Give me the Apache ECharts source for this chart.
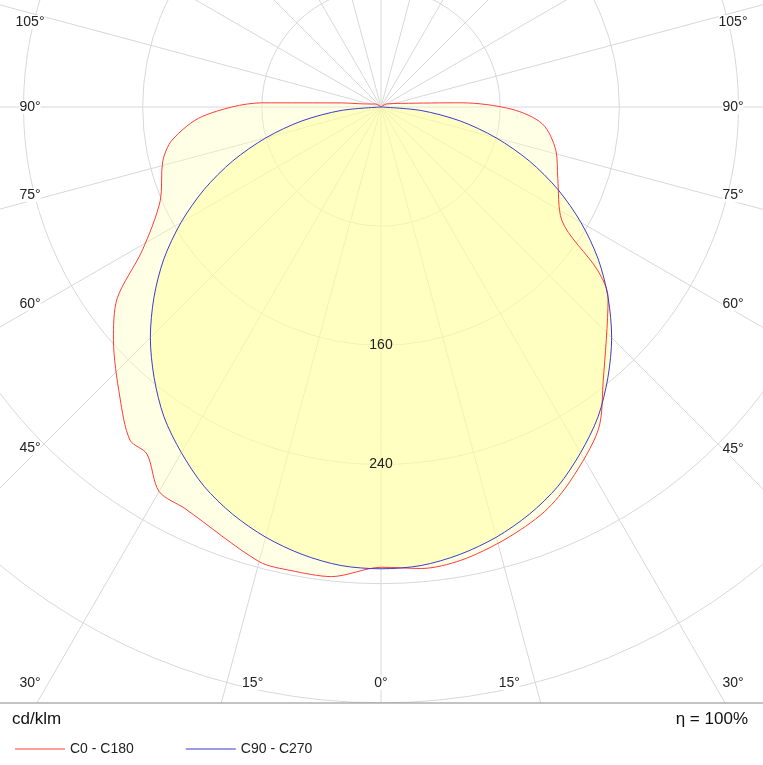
<!DOCTYPE html>
<html><head><meta charset="utf-8">
<script src="https://cdn.jsdelivr.net/npm/echarts@6/dist/echarts.min.js"></script>
<style>html,body{margin:0;padding:0;background:#fff}#c{width:763px;height:765px}</style>
</head><body><div id="c"></div>
<script>
// C0 side (right, positive angles) and C180 side (left)
const c0Angles = [0,6,11,15,26,30,34,37,42,49,54,59,67,76,81,87,92,96,100,120,180];
const c0Values = [309,317,317,316,300,298,281,280,262,238,219,187,161,151,142,120,80,26,12,4,0];
const c180Angles = [0,5,10,16,22,27,34,39,50,53,58,68,76,84,89,93,100,120,180];
const c180Values = [309,311,309,302,293,281,261,237,199,182,143,128,121,109,88,54,14,4,0];
// C90 - C270 (symmetric)
const c90Angles = [0,5,10,15,20,25,30,35,40,45,50,55,60,65,70,75,80,85,90];
const c90Values = [310,309,305,299,291,281,268,254,237,219,199,178,155,131,106,80,54,27,0];
const angleTicks = [0,15,30,45,60,75,90,105];
const radiusTickLabels = [160,240];

const CX=381, CY=107, R=715, RMAX=480;
function side(angles, values, sign){return angles.map((a,i)=>[values[i], sign*a]);}
const red = side(c180Angles,c180Values,-1).reverse().concat(side(c0Angles,c0Values,1).slice(1));
const blue = side(c90Angles,c90Values,-1).reverse().concat(side(c90Angles,c90Values,1).slice(1));

const font='"Liberation Sans", Arial, sans-serif';
const graphics=[
 {type:'rect',shape:{x:0,y:703,width:763,height:62},style:{fill:'#fff'},z:10},
 {type:'line',shape:{x1:0,y1:703,x2:763,y2:703},style:{stroke:'#888',lineWidth:1},z:11},
 {type:'text',left:12,top:711,style:{text:'cd/klm',font:'17px '+font,fill:'#111'},z:12},
 {type:'text',right:15,top:711,style:{text:'η = 100%',font:'17px '+font,fill:'#111'},z:12}
];
angleTicks.forEach(a=>{
  [1,-1].forEach(s=>{
    if(a===0 && s<0) return;
    const rad=a*Math.PI/180, dx=Math.sin(rad)*s, dy=Math.cos(rad);
    let x,y;
    if(a<30){ y=683; x=CX+dx*(683-CY)/dy; if(a>0) x-=s*26; }
    else { x = s>0?733:30; y=CY+dy*Math.abs((x-CX)/dx); }
    y=Math.max(22,Math.min(683,y));
    if(a===45) y-=10;
    if(a===60||a===75) y-=6;
    graphics.push({type:'text',x:x,y:y,style:{text:a+'°',font:'14px '+font,fill:'#222',align:'center',verticalAlign:'middle',backgroundColor:'#fff'},z:5});
  });
});
radiusTickLabels.forEach(v=>{
  graphics.push({type:'text',x:CX,y:CY+v/RMAX*R,style:{text:String(v),font:'14px '+font,fill:'#222',align:'center',verticalAlign:'middle'},z:5});
});

const chart=echarts.init(document.getElementById('c'));
chart.setOption({
  animation:false,
  polar:{center:[CX,CY],radius:R},
  angleAxis:{type:'value',min:-180,max:180,interval:15,startAngle:90,clockwise:true,
    axisLine:{show:false},axisTick:{show:false},axisLabel:{show:false},
    splitLine:{show:true,lineStyle:{color:'#d8d8d8',width:1}}},
  radiusAxis:{type:'value',min:0,max:RMAX,interval:80,
    axisLine:{show:false},axisTick:{show:false},axisLabel:{show:false},
    splitLine:{show:true,lineStyle:{color:'#d8d8d8',width:1}}},
  legend:{left:10,top:737,z:20,icon:'rect',itemWidth:50,itemHeight:1,itemGap:52,
    textStyle:{fontFamily:font,fontSize:14,color:'#222'},
    data:['C0 - C180','C90 - C270']},
  graphic:graphics,
  series:[
    {name:'C0 - C180',type:'line',coordinateSystem:'polar',data:red,showSymbol:false,smooth:0.3,
      lineStyle:{color:'#ff3b3b',width:1},itemStyle:{color:'#ff3b3b'},areaStyle:{color:'rgba(255,255,190,0.55)'}},
    {name:'C90 - C270',type:'line',coordinateSystem:'polar',data:blue,showSymbol:false,smooth:0.3,
      lineStyle:{color:'#3b3bcc',width:1},itemStyle:{color:'#3b3bcc'},areaStyle:{color:'rgba(255,255,150,0.65)'}}
  ]
});
</script></body></html>
